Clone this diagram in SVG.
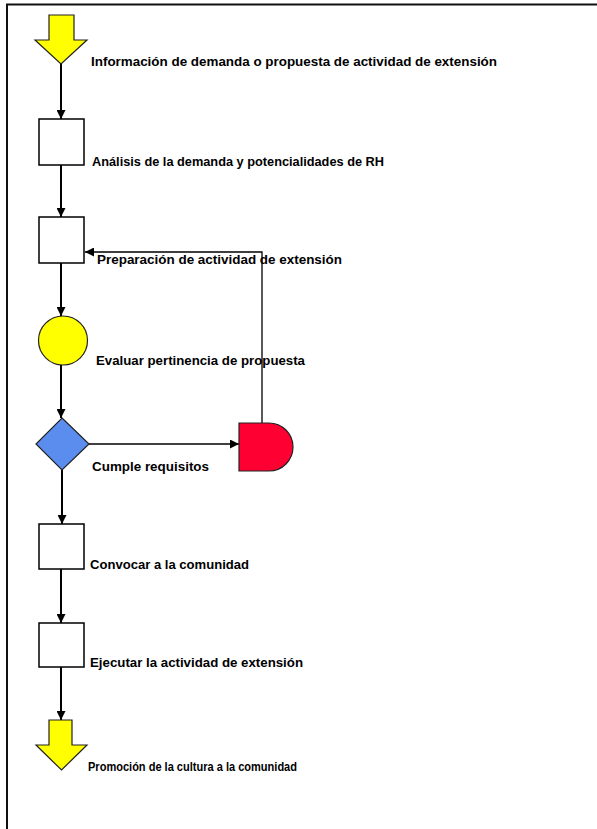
<svg xmlns="http://www.w3.org/2000/svg" width="597" height="829" viewBox="0 0 597 829">
  <style>
    .lbl { font-family: "Liberation Sans", Arial, sans-serif; font-weight: bold; font-size: 12px; fill: #000; }
    .box { fill: #fff; stroke: #000; stroke-width: 1.5; }
    .shape { stroke: #222; stroke-width: 1.2; }
    .main { stroke: #000; stroke-width: 2; fill: none; }
    .thin { stroke: #000; stroke-width: 1.3; fill: none; }
  </style>
  <defs>
    <marker id="ah" viewBox="0 0 10 10" refX="10" refY="5" markerWidth="9" markerHeight="9" markerUnits="userSpaceOnUse" orient="auto">
      <path d="M0,0 L10,5 L0,10 z" fill="#000"/>
    </marker>
  </defs>

  <rect width="597" height="829" fill="#fff"/>
  <!-- page frame -->
  <path d="M7,829 V4.5 H597" fill="none" stroke="#111" stroke-width="2"/>

  <!-- connectors -->
  <g id="connectors">
    <line class="main" x1="61" y1="64" x2="61" y2="119" marker-end="url(#ah)"/>
    <line class="main" x1="61" y1="165" x2="61" y2="217" marker-end="url(#ah)"/>
    <line class="main" x1="61" y1="263" x2="61" y2="316" marker-end="url(#ah)"/>
    <line class="main" x1="61" y1="365" x2="61" y2="418" marker-end="url(#ah)"/>
    <line class="main" x1="62" y1="470" x2="62" y2="524" marker-end="url(#ah)"/>
    <line class="main" x1="61" y1="569" x2="61" y2="623" marker-end="url(#ah)"/>
    <line class="main" x1="61" y1="667" x2="61" y2="720" marker-end="url(#ah)"/>
    <line class="thin" x1="89" y1="444" x2="239" y2="444" marker-end="url(#ah)"/>
    <polyline class="thin" points="262,423 262,252 85,252" marker-end="url(#ah)"/>
  </g>

  <g id="start">
    <path class="shape" d="M49,15 H74 V40 H87 L61,64 L35,40 H49 Z" fill="#ffff00"/>
    <text class="lbl" x="91" y="66" textLength="406" lengthAdjust="spacingAndGlyphs">Información de demanda o propuesta de actividad de extensión</text>
  </g>

  <g id="analisis">
    <rect class="box" x="39" y="119" width="45" height="46"/>
    <text class="lbl" x="92" y="166" textLength="292" lengthAdjust="spacingAndGlyphs">Análisis de la demanda y potencialidades de RH</text>
  </g>

  <g id="preparacion">
    <rect class="box" x="39" y="217" width="45" height="46"/>
    <text class="lbl" x="97" y="264" textLength="245" lengthAdjust="spacingAndGlyphs">Preparación de actividad de extensión</text>
  </g>

  <g id="evaluar">
    <circle class="shape" cx="63" cy="340.5" r="24.5" fill="#ffff00"/>
    <text class="lbl" x="96" y="365" textLength="209" lengthAdjust="spacingAndGlyphs">Evaluar pertinencia de propuesta</text>
  </g>

  <g id="cumple">
    <path class="shape" d="M62,418 L89,444 L62,470 L36,444 Z" fill="#5b8def"/>
    <text class="lbl" x="92" y="471" textLength="117" lengthAdjust="spacingAndGlyphs">Cumple requisitos</text>
  </g>

  <g id="demora">
    <path class="shape" d="M239,423 H269 A24,24 0 0 1 269,471 H239 Z" fill="#ff0033"/>
  </g>

  <g id="convocar">
    <rect class="box" x="39" y="524" width="45" height="45"/>
    <text class="lbl" x="90" y="569" textLength="159" lengthAdjust="spacingAndGlyphs">Convocar a la comunidad</text>
  </g>

  <g id="ejecutar">
    <rect class="box" x="39" y="623" width="45" height="44"/>
    <text class="lbl" x="90" y="667" textLength="213" lengthAdjust="spacingAndGlyphs">Ejecutar la actividad de extensión</text>
  </g>

  <g id="fin">
    <path class="shape" d="M49,720 H72 V745 H87 L61.5,770 L36,745 H49 Z" fill="#ffff00"/>
    <text class="lbl" x="88" y="771" textLength="209" lengthAdjust="spacingAndGlyphs">Promoción de la cultura a la comunidad</text>
  </g>
</svg>
